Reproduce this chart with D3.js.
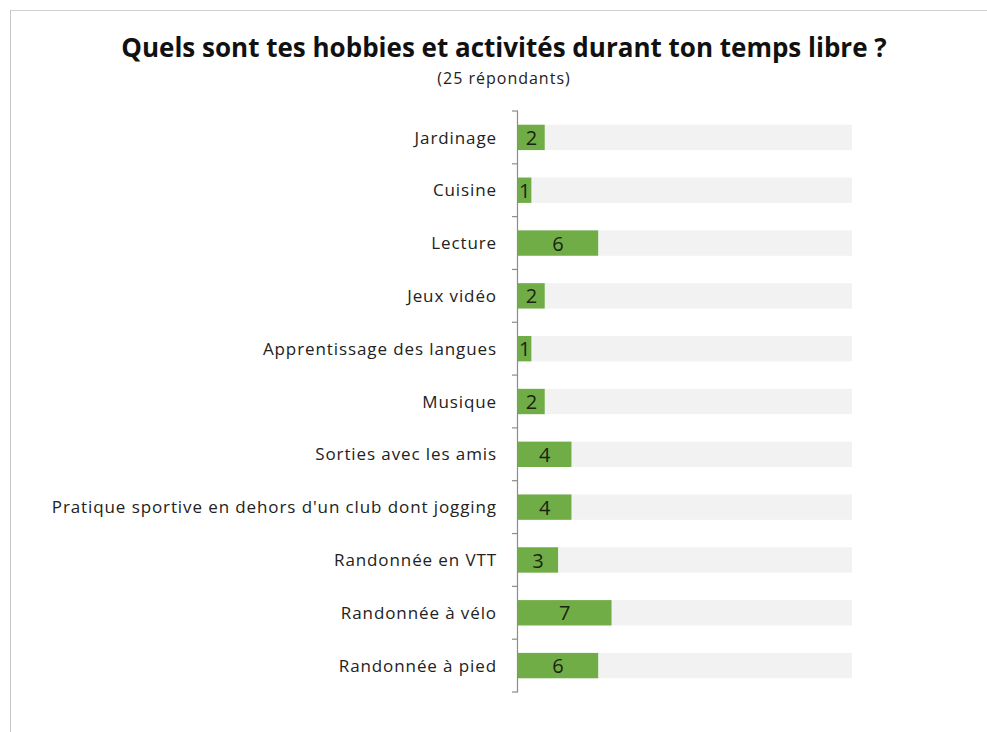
<!DOCTYPE html>
<html>
<head>
<meta charset="utf-8">
<script src="https://cdn.jsdelivr.net/npm/d3@7"></script>
<style>
  body { margin: 0; background: #fff; }
  text { font-family: "Open Sans", "Noto Sans", sans-serif; }
</style>
</head>
<body>
<script>
// chart data
const categories = [
    "Jardinage",
    "Cuisine",
    "Lecture",
    "Jeux vidéo",
    "Apprentissage des langues",
    "Musique",
    "Sorties avec les amis",
    "Pratique sportive en dehors d'un club dont jogging",
    "Randonnée en VTT",
    "Randonnée à vélo",
    "Randonnée à pied"
];
const counts = [2, 1, 6, 2, 1, 2, 4, 4, 3, 7, 6];
const respondents = 25;

const width = 987;
const height = 732;

const svg = d3.select('body')
    .append('svg')
    .attr('width', width)
    .attr('height', height);

// outer frame lines (top + left)
svg.append('line')
    .attr('x1', 10).attr('y1', 10.5).attr('x2', width).attr('y2', 10.5)
    .attr('stroke', '#d0d0d0');
svg.append('line')
    .attr('x1', 10.5).attr('y1', 10).attr('x2', 10.5).attr('y2', height)
    .attr('stroke', '#c8c8c8');

// titles
svg.append('text')
    .attr('x', 504).attr('y', 57)
    .attr('text-anchor', 'middle')
    .attr('font-size', 26)
    .attr('font-weight', 'bold')
    .attr('fill', '#111')
    .text("Quels sont tes hobbies et activités durant ton temps libre ?");
svg.append('text')
    .attr('x', 504).attr('y', 84)
    .attr('text-anchor', 'middle')
    .attr('font-size', 16)
    .attr('letter-spacing', 1)
    .attr('fill', '#222')
    .text(`(${respondents} répondants)`);

const plotLeft = 518;
const plotTop = 111, plotBottom = 692;

const xScale = d3.scaleLinear()
    .domain([0, respondents])
    .range([plotLeft, 852]);

const yScale = d3.scaleBand()
    .domain(categories)
    .range([plotTop, plotBottom])
    .paddingInner(0.52)
    .paddingOuter(0.26);

// background bars (total respondents)
svg.selectAll('.bg')
    .data(categories)
    .enter()
    .append('rect')
    .attr('class', 'bg')
    .attr('x', xScale(0))
    .attr('y', d => yScale(d))
    .attr('width', xScale(respondents) - xScale(0))
    .attr('height', yScale.bandwidth())
    .attr('fill', '#f2f2f2');

// value bars
svg.selectAll('.bar')
    .data(counts)
    .enter()
    .append('rect')
    .attr('class', 'bar')
    .attr('x', xScale(0))
    .attr('y', (d, i) => yScale(categories[i]))
    .attr('width', d => xScale(d) - xScale(0))
    .attr('height', yScale.bandwidth())
    .attr('fill', '#70ad47');

// value labels
svg.selectAll('.val')
    .data(counts)
    .enter()
    .append('text')
    .attr('class', 'val')
    .attr('x', d => (xScale(d) + xScale(0)) / 2)
    .attr('y', (d, i) => yScale(categories[i]) + yScale.bandwidth() / 2)
    .attr('dy', '0.38em')
    .attr('text-anchor', 'middle')
    .attr('font-size', 20)
    .attr('fill', '#1a2410')
    .text(d => d);

// y axis line with ticks between categories
const step = (plotBottom - plotTop) / categories.length;
const axis = svg.append('g').attr('stroke', '#8c8c8c').attr('stroke-width', 1.2);
axis.append('line')
    .attr('x1', plotLeft - 0.5).attr('x2', plotLeft - 0.5)
    .attr('y1', plotTop).attr('y2', plotBottom);
d3.range(categories.length + 1).forEach(i => {
    axis.append('line')
        .attr('x1', plotLeft - 6).attr('x2', plotLeft)
        .attr('y1', plotTop + i * step).attr('y2', plotTop + i * step);
});

// category labels
svg.selectAll('.cat')
    .data(categories)
    .enter()
    .append('text')
    .attr('class', 'cat')
    .attr('x', 497)
    .attr('y', d => yScale(d) + yScale.bandwidth() / 2)
    .attr('dy', '0.36em')
    .attr('text-anchor', 'end')
    .attr('font-size', 17)
    .attr('letter-spacing', 0.9)
    .attr('fill', '#222')
    .text(d => d);
</script>
</body>
</html>
